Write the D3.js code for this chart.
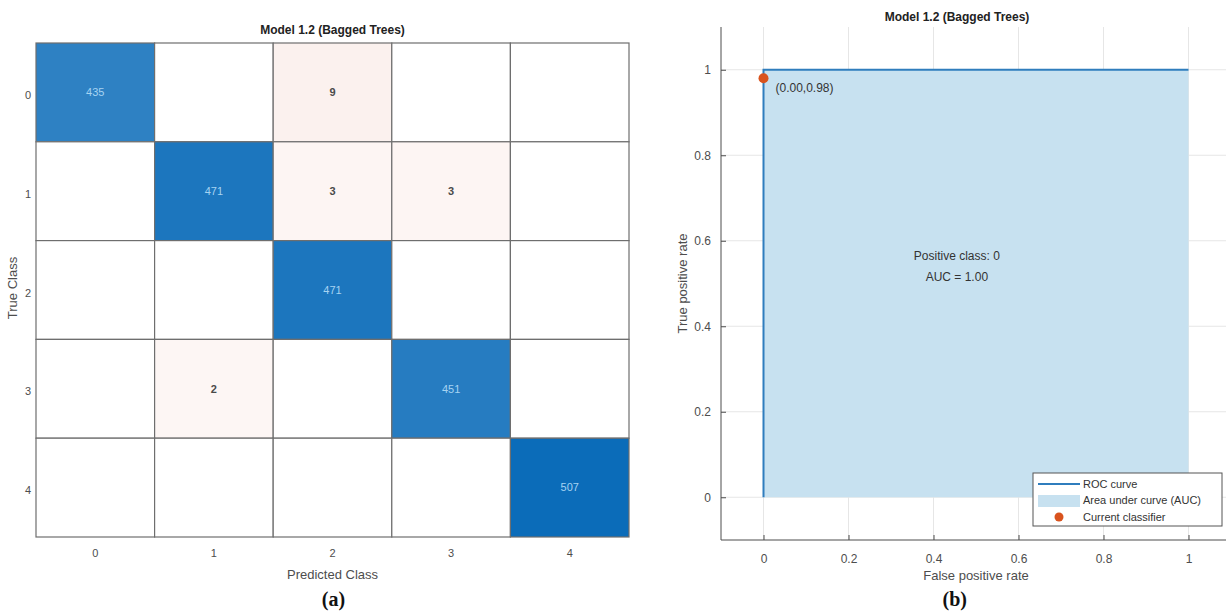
<!DOCTYPE html>
<html>
<head>
<meta charset="utf-8">
<script src="https://cdn.jsdelivr.net/npm/d3@7"></script>
<style>
  html, body { margin: 0; padding: 0; background: #fff; }
  svg { font-family: "Liberation Sans", Arial, sans-serif; }
</style>
</head>
<body>
<svg id="chart" width="1226" height="613"></svg>
<script>
// ---------- data ----------
const classes = ["0", "1", "2", "3", "4"];
// confusion matrix rows = true class, columns = predicted class
const row0 = [435, 0, 9, 0, 0];
const row1 = [0, 471, 3, 3, 0];
const row2 = [0, 0, 471, 0, 0];
const row3 = [0, 2, 0, 451, 0];
const row4 = [0, 0, 0, 0, 507];
const confRows = [row0, row1, row2, row3, row4];

const rocFpr = [0, 0, 1];
const rocTpr = [0, 1, 1];
const currentPoint = [0.00, 0.98];
const xTicks = [0, 0.2, 0.4, 0.6, 0.8, 1];
const yTicks = [0, 0.2, 0.4, 0.6, 0.8, 1];
const aucValue = 1.00;
const positiveClass = "0";
const legendLabels = ["ROC curve", "Area under curve (AUC)", "Current classifier"];

const svg = d3.select("#chart");
const tickColor = "#4d4d4d";
const sans = "'Liberation Sans', Arial, sans-serif";
const serif = "'Liberation Serif', 'Times New Roman', serif";

// ---------- (a) confusion matrix ----------
const cm = { left: 36, right: 629, top: 43, bottom: 537 };
const xb = d3.scaleBand().domain(classes).range([cm.left, cm.right]);
const yb = d3.scaleBand().domain(classes).range([cm.top, cm.bottom]);
const maxVal = d3.max(confRows.flat());
const diagColor = d3.scaleLinear().domain([0, maxVal]).range(["#ffffff", "#0b6cb9"]);
const offColor = d3.scaleLinear().domain([0, 2, 9]).range(["#ffffff", "#fdf6f4", "#fbf1ee"]).clamp(true);

const cells = [];
confRows.forEach((r, i) => r.forEach((v, j) => cells.push({ t: classes[i], p: classes[j], v, diag: i === j })));

const gA = svg.append("g");
gA.selectAll("rect.cell").data(cells).join("rect")
  .attr("class", "cell")
  .attr("x", d => xb(d.p)).attr("y", d => yb(d.t))
  .attr("width", xb.bandwidth()).attr("height", yb.bandwidth())
  .attr("fill", d => d.v === 0 ? "#ffffff" : (d.diag ? diagColor(d.v) : offColor(d.v)))
  .attr("stroke", "#6e6e6e").attr("stroke-width", 1.2);

gA.selectAll("text.val").data(cells.filter(d => d.v > 0)).join("text")
  .attr("class", "val")
  .attr("x", d => xb(d.p) + xb.bandwidth() / 2)
  .attr("y", d => yb(d.t) + yb.bandwidth() / 2)
  .attr("dy", "0.35em").attr("text-anchor", "middle")
  .style("font-size", "11px")
  .attr("fill", d => d.diag ? "#a6d3f2" : "#4a4a4a")
  .style("font-weight", d => d.diag ? "normal" : "bold")
  .text(d => d.v);

// axes (labels only)
const axB = d3.axisBottom(xb).tickSize(0).tickPadding(12);
const gxA = gA.append("g").attr("transform", `translate(0,${cm.bottom})`).call(axB);
gxA.select(".domain").remove();
gxA.selectAll("text").style("font-size", "11px").attr("fill", tickColor).style("font-family", sans);
const axL = d3.axisLeft(yb).tickSize(0).tickPadding(5);
const gyA = gA.append("g").attr("transform", `translate(${cm.left},0)`).call(axL);
gyA.select(".domain").remove();
gyA.selectAll("text").style("font-size", "11px").attr("fill", tickColor).style("font-family", sans)
  .attr("dy", "0.6em");

gA.append("text").attr("x", (cm.left + cm.right) / 2).attr("y", 34)
  .attr("text-anchor", "middle").style("font-size", "12px").style("font-weight", "bold").attr("fill", "#222")
  .text("Model 1.2 (Bagged Trees)");
gA.append("text").attr("x", (cm.left + cm.right) / 2).attr("y", 579)
  .attr("text-anchor", "middle").style("font-size", "13px").attr("fill", tickColor)
  .text("Predicted Class");
gA.append("text").attr("transform", `translate(17,${(cm.top + cm.bottom) / 2 - 2}) rotate(-90)`)
  .attr("text-anchor", "middle").style("font-size", "13px").attr("fill", tickColor)
  .text("True Class");
gA.append("text").attr("x", (cm.left + cm.right) / 2 + 1).attr("y", 606)
  .attr("text-anchor", "middle").style("font-size", "20px").style("font-weight", "bold")
  .style("font-family", serif).attr("fill", "#111")
  .text("(a)");

// ---------- (b) ROC ----------
const x = d3.scaleLinear().domain([-0.1, 1.1]).range([721, 1231]);
const y = d3.scaleLinear().domain([-0.1, 1.1]).range([540, 27]);
const gB = svg.append("g");

// grid
gB.selectAll("line.gx").data(xTicks).join("line").attr("class", "gx")
  .attr("x1", d => x(d)).attr("x2", d => x(d)).attr("y1", y(-0.1)).attr("y2", y(1.1))
  .attr("stroke", "#e6e6e6").attr("stroke-width", 1);
gB.selectAll("line.gy").data(yTicks).join("line").attr("class", "gy")
  .attr("x1", x(-0.1)).attr("x2", x(1.1)).attr("y1", d => y(d)).attr("y2", d => y(d))
  .attr("stroke", "#e6e6e6").attr("stroke-width", 1);

// AUC area
const rocPts = rocFpr.map((f, i) => [f, rocTpr[i]]);
const area = d3.area().x(d => x(d[0])).y0(y(0)).y1(d => y(d[1])).curve(d3.curveLinear);
gB.append("path").datum(rocPts).attr("d", area).attr("fill", "#c7e1f0");
const line = d3.line().x(d => x(d[0])).y(d => y(d[1]));
gB.append("path").datum(rocPts).attr("d", line).attr("fill", "none")
  .attr("stroke", "#2f7dbd").attr("stroke-width", 2);

// axes
const axX = d3.axisBottom(x).tickValues(xTicks).tickSize(-5).tickPadding(14).tickFormat(d3.format("~g"));
const gxB = gB.append("g").attr("transform", `translate(0,${y(-0.1)})`).call(axX);
gxB.select(".domain").attr("d", `M${x(-0.1)},0H1226`).attr("stroke", tickColor);
gxB.selectAll(".tick line").attr("stroke", tickColor);
gxB.selectAll("text").style("font-size", "12px").attr("fill", tickColor).style("font-family", sans);
const axY = d3.axisLeft(y).tickValues(yTicks).tickSize(-5).tickPadding(10).tickFormat(d3.format("~g"));
const gyB = gB.append("g").attr("transform", `translate(${x(-0.1)},0)`).call(axY);
gyB.select(".domain").attr("d", `M0,${y(-0.1)}V${y(1.1)}`).attr("stroke", tickColor);
gyB.selectAll(".tick line").attr("stroke", tickColor);
gyB.selectAll("text").style("font-size", "12px").attr("fill", tickColor).style("font-family", sans);

// current classifier
gB.append("circle").attr("cx", x(currentPoint[0])).attr("cy", y(currentPoint[1])).attr("r", 5)
  .attr("fill", "#d9531e");
gB.append("text").attr("x", x(currentPoint[0]) + 12).attr("y", y(currentPoint[1]) + 14)
  .style("font-size", "12px").attr("fill", "#333")
  .text(`(${currentPoint[0].toFixed(2)},${currentPoint[1].toFixed(2)})`);

// annotation
gB.append("text").attr("x", x(0.455)).attr("y", y(0.555)).attr("text-anchor", "middle")
  .style("font-size", "12px").attr("fill", "#333").text(`Positive class: ${positiveClass}`);
gB.append("text").attr("x", x(0.455)).attr("y", y(0.505)).attr("text-anchor", "middle")
  .style("font-size", "12px").attr("fill", "#333").text(`AUC = ${aucValue.toFixed(2)}`);

// titles
gB.append("text").attr("x", 957).attr("y", 21).attr("text-anchor", "middle")
  .style("font-size", "12px").style("font-weight", "bold").attr("fill", "#222").text("Model 1.2 (Bagged Trees)");
gB.append("text").attr("x", x(0.5)).attr("y", 580).attr("text-anchor", "middle")
  .style("font-size", "13px").attr("fill", tickColor).text("False positive rate");
gB.append("text").attr("transform", `translate(687,${y(0.5)}) rotate(-90)`).attr("text-anchor", "middle")
  .style("font-size", "13px").attr("fill", tickColor).text("True positive rate");
gB.append("text").attr("x", x(0.45)).attr("y", 606).attr("text-anchor", "middle")
  .style("font-size", "20px").style("font-weight", "bold")
  .style("font-family", serif).attr("fill", "#111").text("(b)");

// legend
const lg = gB.append("g").attr("transform", "translate(1033,473)");
lg.append("rect").attr("width", 189).attr("height", 53).attr("fill", "#fff")
  .attr("stroke", "#555").attr("stroke-width", 1);
lg.append("line").attr("x1", 5).attr("x2", 47).attr("y1", 11).attr("y2", 11)
  .attr("stroke", "#2f7dbd").attr("stroke-width", 2);
lg.append("rect").attr("x", 5).attr("y", 22).attr("width", 42).attr("height", 12).attr("fill", "#c7e1f0");
lg.append("circle").attr("cx", 26).attr("cy", 44).attr("r", 4.5).attr("fill", "#d9531e");
lg.selectAll("text").data(legendLabels).join("text")
  .attr("x", 50).attr("y", (d, i) => 11 + i * 16.5).attr("dy", "0.35em")
  .style("font-size", "11px").attr("fill", "#333").text(d => d);
</script>
</body>
</html>
